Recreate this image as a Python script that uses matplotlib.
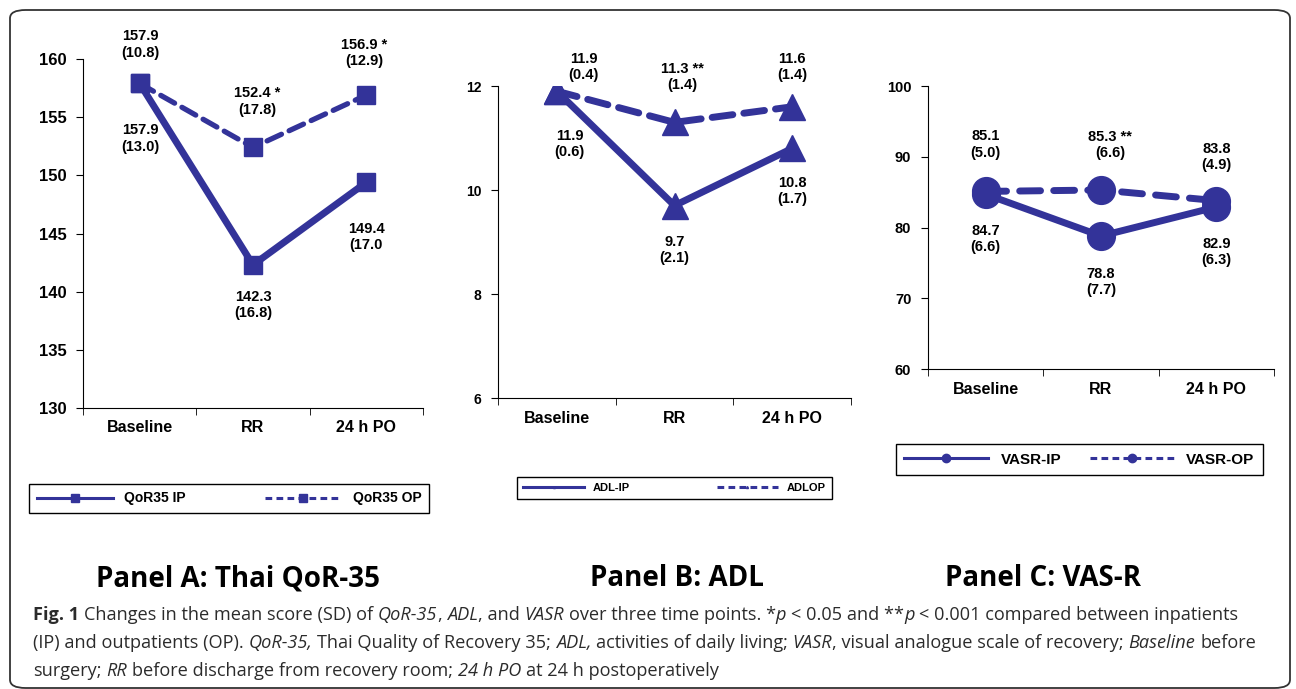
import matplotlib
matplotlib.use("Agg")
import matplotlib.pyplot as plt
from matplotlib.lines import Line2D
from matplotlib.patches import FancyBboxPatch

plt.rcParams['font.family'] = ['Liberation Sans', 'DejaVu Sans']
plt.rcParams['font.weight'] = 'bold'

NAVY = '#333399'
W, H = 1296, 689

times = ["Baseline", "RR", "24 h PO"]

# Panel A: Thai QoR-35
qor_ip = [157.9, 142.3, 149.4]
qor_op = [157.9, 152.4, 156.9]
qor_ip_lab = ["157.9\n(13.0)", "142.3\n(16.8)", "149.4\n(17.0"]
qor_op_lab = ["157.9\n(10.8)", "152.4 *\n(17.8)", "156.9 *\n(12.9)"]

# Panel B: ADL
adl_ip = [11.9, 9.7, 10.8]
adl_op = [11.9, 11.3, 11.6]
adl_ip_lab = ["11.9\n(0.6)", "9.7\n(2.1)", "10.8\n(1.7)"]
adl_op_lab = ["11.9\n(0.4)", "11.3 **\n(1.4)", "11.6\n(1.4)"]

# Panel C: VAS-R
vas_ip = [84.7, 78.8, 82.9]
vas_op = [85.1, 85.3, 83.8]
vas_ip_lab = ["84.7\n(6.6)", "78.8\n(7.7)", "82.9\n(6.3)"]
vas_op_lab = ["85.1\n(5.0)", "85.3 **\n(6.6)", "83.8\n(4.9)"]

titles = ["Panel A: Thai QoR-35", "Panel B: ADL", "Panel C: VAS-R"]

fig = plt.figure(figsize=(W / 100, H / 100), dpi=100)


def px(x0, y0, x1, y1):
    # pixel box (top-left origin) -> figure fraction rect
    return [x0 / W, 1 - y1 / H, (x1 - x0) / W, (y1 - y0) / H]


def panel(rect, ip, op, ip_lab, op_lab, ylim, yticks, marker, ms, tick_fs,
          ip_off, op_off, names, leg_rect, leg_fs, leg_ms, ip_lw, op_lw, dashes):
    ax = fig.add_axes(px(*rect))
    x = range(len(times))
    ax.plot(x, ip, color=NAVY, lw=ip_lw, marker=marker, ms=ms, zorder=3)
    ax.plot(x, op, color=NAVY, lw=op_lw, marker=marker, ms=ms, dashes=dashes,
            dash_capstyle='round', zorder=3)
    for i in x:
        dx, dy = ip_off[i]
        ax.annotate(ip_lab[i], (i, ip[i]), xytext=(dx * 0.72, -dy * 0.72),
                    textcoords='offset points', ha='center', va='center',
                    fontsize=10.5, linespacing=1.2)
        dx, dy = op_off[i]
        ax.annotate(op_lab[i], (i, op[i]), xytext=(dx * 0.72, -dy * 0.72),
                    textcoords='offset points', ha='center', va='center',
                    fontsize=10.5, linespacing=1.2)
    ax.set_xlim(-0.5, 2.5)
    ax.set_ylim(*ylim)
    ax.set_yticks(yticks)
    ax.set_xticks(list(x))
    ax.set_xticklabels(times, fontsize=11.5, fontweight='bold')
    ax.set_xticks([-0.5, 0.5, 1.5, 2.5], minor=True)
    ax.tick_params(axis='x', which='major', length=0, pad=9)
    ax.tick_params(axis='x', which='minor', length=5, direction='out')
    ax.tick_params(axis='y', length=5, direction='out', labelsize=tick_fs, pad=7)
    for lab in ax.get_yticklabels():
        lab.set_fontweight('bold')
    ax.spines['top'].set_visible(False)
    ax.spines['right'].set_visible(False)
    handles = [Line2D([], [], color=NAVY, lw=2.2, marker=marker, ms=leg_ms),
               Line2D([], [], color=NAVY, lw=2.2, marker=marker, ms=leg_ms,
                      dashes=(2.2, 1.4))]
    fig.legend(handles, names, loc='lower left', bbox_to_anchor=px(*leg_rect),
               mode='expand', ncol=2, frameon=True, fancybox=False,
               edgecolor='black', framealpha=1, handlelength=5.5,
               borderaxespad=0, borderpad=0.55,
               prop={'size': leg_fs, 'weight': 'bold'})
    return ax


panel((83, 59, 423, 408), qor_ip, qor_op, qor_ip_lab, qor_op_lab,
      (130, 160), range(130, 161, 5), 's', 13, 12,
      [(1, 55), (0, 40), (0, 55)], [(1, -39), (4, -46), (-2, -42)],
      ["QoR35 IP", "QoR35 OP"], (29, 476, 429, 513), 10, 6, 5, 3.8, (3, 1.6))

panel((498, 86, 851, 398), adl_ip, adl_op, adl_ip_lab, adl_op_lab,
      (6, 12), range(6, 13, 2), '^', 18.5, 10,
      [(13, 53), (0, 44), (0, 43)], [(27, -24), (8, -45), (0, -40)],
      ["ADL-IP", "ADLOP"], (517, 466, 832, 499), 8, 1.5, 5, 5, (3, 1.6))

panel((928, 86, 1274, 369), vas_ip, vas_op, vas_ip_lab, vas_op_lab,
      (60, 100), range(60, 101, 10), 'o', 20, 10.5,
      [(0, 45), (0, 46), (0, 45)], [(0, -47), (9, -45), (0, -44)],
      ["VASR-IP", "VASR-OP"], (896, 437, 1263, 475), 11, 6, 5, 5, (3, 1.9))

# panel titles
for cx, t in zip([238, 677, 1043], titles):
    fig.text(cx / W, 1 - 579 / H, t, ha='center', va='center', fontsize=20,
             fontweight='bold', family=['Open Sans', 'DejaVu Sans'], color='black')

# rounded frame
fig.patches.append(FancyBboxPatch((10 / W, 1 - 688 / H), 1280 / W, 678 / H,
                                  boxstyle='round,pad=0,rounding_size=0.012',
                                  transform=fig.transFigure, fill=False,
                                  edgecolor='#333333', lw=1.3))

# caption with mixed styles
caption = [
    [("Fig. 1", 'bold', 'normal'),
     (" Changes in the mean score (SD) of ", 'normal', 'normal'),
     ("QoR-35", 'normal', 'italic'), (", ", 'normal', 'normal'),
     ("ADL", 'normal', 'italic'), (", and ", 'normal', 'normal'),
     ("VASR", 'normal', 'italic'),
     (" over three time points. *", 'normal', 'normal'),
     ("p", 'normal', 'italic'), (" < 0.05 and **", 'normal', 'normal'),
     ("p", 'normal', 'italic'),
     (" < 0.001 compared between inpatients", 'normal', 'normal')],
    [("(IP) and outpatients (OP). ", 'normal', 'normal'),
     ("QoR-35,", 'normal', 'italic'),
     (" Thai Quality of Recovery 35; ", 'normal', 'normal'),
     ("ADL,", 'normal', 'italic'),
     (" activities of daily living; ", 'normal', 'normal'),
     ("VASR", 'normal', 'italic'),
     (", visual analogue scale of recovery; ", 'normal', 'normal'),
     ("Baseline", 'normal', 'italic'), (" before", 'normal', 'normal')],
    [("surgery; ", 'normal', 'normal'), ("RR", 'normal', 'italic'),
     (" before discharge from recovery room; ", 'normal', 'normal'),
     ("24 h PO", 'normal', 'italic'),
     (" at 24 h postoperatively", 'normal', 'normal')],
]

renderer = fig.canvas.get_renderer()
cap_fs = 13.1
cap_font = ['Open Sans', 'DejaVu Sans']


def width_of(s, weight, style):
    t = fig.text(0, 0, s, fontsize=cap_fs, fontweight=weight, fontstyle=style,
                 family=cap_font)
    w = t.get_window_extent(renderer).width
    t.remove()
    return w


space_w = width_of("n n", 'normal', 'normal') - width_of("nn", 'normal', 'normal')

for row, pieces in enumerate(caption):
    xpos = 33.0
    ybase = [620, 648, 676][row]
    for s, weight, style in pieces:
        lead = len(s) - len(s.lstrip(' '))
        trail = len(s) - len(s.rstrip(' '))
        core = s.strip(' ')
        xpos += lead * space_w
        t = fig.text(xpos / W, 1 - ybase / H, core, fontsize=cap_fs,
                     fontweight=weight, fontstyle=style, family=cap_font,
                     color='#2b2b2b', va='baseline', ha='left')
        xpos += t.get_window_extent(renderer).width + trail * space_w

fig.savefig("out.png", dpi=100)
